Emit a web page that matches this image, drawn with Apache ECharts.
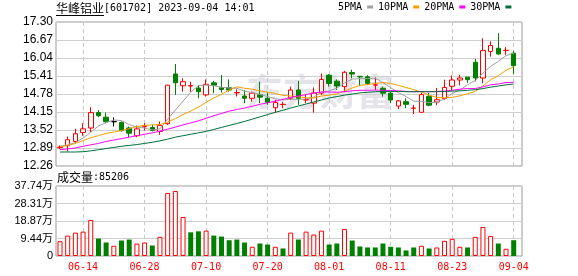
<!DOCTYPE html>
<html><head><meta charset="utf-8">
<script src="https://cdn.jsdelivr.net/npm/echarts@6/dist/echarts.min.js"></script>
<style>html,body{margin:0;padding:0;background:#fff}#c{width:578px;height:276px}</style>
</head><body><div id="c"></div>
<script>
const stockName = '华峰铝业';
const stockCode = '601702';
const timeStamp = '2023-09-04 14:01';
const dates = ['06-09','06-12','06-13','06-14','06-15','06-16','06-19','06-20','06-21','06-26','06-27','06-28','06-29','06-30','07-03','07-04','07-05','07-06','07-07','07-10','07-11','07-12','07-13','07-14','07-17','07-18','07-19','07-20','07-21','07-24','07-25','07-26','07-27','07-28','07-31','08-01','08-02','08-03','08-04','08-07','08-08','08-09','08-10','08-11','08-14','08-15','08-16','08-17','08-18','08-21','08-22','08-23','08-24','08-25','08-28','08-29','08-30','08-31','09-01','09-04'];
const dateTicks = ['06-14','06-28','07-10','07-20','08-01','08-11','08-23','09-04'];
const opens  = [12.90,12.97,13.12,13.43,13.59,14.13,13.97,13.81,13.78,13.59,13.32,13.63,13.61,13.47,13.74,15.48,15.07,15.06,14.99,14.75,15.17,15.00,15.00,14.82,14.71,14.63,14.75,14.63,14.30,14.41,14.63,14.92,14.57,14.46,14.81,15.44,15.23,15.04,15.53,15.40,15.38,15.09,14.98,14.81,14.36,14.51,14.28,14.14,14.70,14.50,14.62,15.05,15.27,15.37,15.89,15.34,16.27,16.38,16.30,16.21];
const closes = [12.92,13.18,13.39,13.56,14.13,14.02,13.81,13.81,13.50,13.41,13.56,13.65,13.50,13.68,15.09,15.17,15.21,15.07,14.86,15.12,15.09,14.94,14.92,14.83,14.63,14.81,14.67,14.49,14.48,14.42,14.92,14.63,14.58,14.81,15.29,15.15,15.06,15.54,15.48,15.38,15.15,15.10,14.81,14.57,14.54,14.42,14.29,14.76,14.39,14.58,15.01,15.27,15.34,15.28,15.34,16.30,16.48,16.18,16.31,15.77];
const highs  = [12.98,13.29,13.56,13.76,14.32,14.22,14.13,13.96,13.82,13.64,13.68,13.76,13.70,13.82,15.10,15.83,15.33,15.21,15.09,15.29,15.24,15.44,15.29,14.94,14.92,14.86,15.21,14.83,14.57,14.51,15.04,15.24,14.75,15.01,15.50,15.48,15.29,15.59,15.63,15.40,15.44,15.36,15.04,14.86,14.57,14.63,14.40,14.82,14.82,14.99,15.28,15.43,15.45,15.37,16.01,16.73,16.62,16.91,16.42,16.29];
const lows   = [12.85,12.77,13.06,13.32,13.45,13.97,13.76,13.64,13.46,13.27,13.27,13.50,13.47,13.35,13.70,14.75,14.86,14.86,14.63,14.69,14.81,14.83,14.86,14.69,14.46,14.51,14.46,14.40,14.13,14.28,14.57,14.40,14.46,14.13,14.75,15.04,14.92,14.86,15.33,15.06,15.09,14.92,14.69,14.46,14.25,14.28,14.08,14.12,14.35,14.39,14.58,14.90,15.08,15.17,15.22,15.16,16.09,16.15,16.15,15.48];
const ma5  = [12.95,13.00,13.08,13.24,13.44,13.66,13.78,13.87,13.85,13.71,13.62,13.59,13.52,13.56,13.90,14.22,14.53,14.84,15.08,15.09,15.07,15.02,14.99,14.98,14.88,14.83,14.77,14.69,14.62,14.57,14.60,14.59,14.61,14.67,14.85,14.89,14.98,15.17,15.30,15.32,15.32,15.33,15.18,15.00,14.83,14.69,14.53,14.52,14.48,14.49,14.61,14.80,14.92,15.10,15.25,15.51,15.75,15.92,16.12,16.21];
const ma10 = [12.93,12.98,13.05,13.15,13.25,13.32,13.40,13.45,13.50,13.57,13.64,13.68,13.70,13.71,13.80,13.92,14.06,14.18,14.32,14.49,14.64,14.77,14.92,15.03,14.98,14.95,14.89,14.84,14.80,14.73,14.71,14.68,14.65,14.64,14.71,14.74,14.78,14.89,14.99,15.08,15.11,15.15,15.18,15.15,15.08,15.01,14.93,14.85,14.74,14.66,14.65,14.66,14.72,14.79,14.87,15.06,15.28,15.42,15.61,15.73];
const ma20 = [12.83,12.86,12.89,12.95,13.00,13.05,13.12,13.17,13.22,13.27,13.32,13.37,13.42,13.48,13.55,13.62,13.70,13.77,13.84,13.93,14.02,14.10,14.18,14.24,14.29,14.35,14.42,14.47,14.53,14.59,14.66,14.71,14.76,14.82,14.85,14.85,14.84,14.86,14.89,14.91,14.91,14.92,14.91,14.90,14.89,14.87,14.86,14.87,14.86,14.87,14.88,14.91,14.95,14.97,14.97,15.03,15.10,15.13,15.18,15.19];
const ma30 = [12.75,12.75,12.75,12.76,12.79,12.83,12.87,12.91,12.95,12.98,13.01,13.05,13.09,13.14,13.20,13.27,13.32,13.37,13.42,13.47,13.54,13.61,13.68,13.75,13.82,13.90,13.98,14.06,14.14,14.21,14.29,14.36,14.43,14.50,14.57,14.64,14.69,14.74,14.78,14.82,14.84,14.86,14.87,14.87,14.87,14.86,14.86,14.86,14.86,14.86,14.87,14.88,14.89,14.91,14.93,14.97,15.02,15.06,15.10,15.13];
const volumes = [79600,110100,126100,131500,194000,94100,72700,55100,83400,88700,67300,72700,56700,103200,340000,350600,210100,127700,133100,136800,110100,104800,85000,88700,72700,49700,67300,62000,49700,40600,126100,88700,131500,115500,136800,62000,67300,145900,83400,51300,46000,46000,67300,49700,46000,29900,46000,55100,40600,46000,81800,92500,49700,46000,103200,156600,108500,67300,39000,85206];
const volumeUp = [1,1,1,1,1,0,0,1,0,0,1,1,0,1,1,1,1,0,0,1,0,0,0,0,0,1,0,0,1,0,1,0,1,1,1,0,0,1,0,0,0,0,0,0,0,0,0,1,0,1,1,1,1,0,1,1,1,0,1,0];
const priceTicks = ['12.26','12.89','13.52','14.15','14.78','15.41','16.04','16.67','17.30'];
const volumeTicks = ['0','9.44万','18.87万','28.31万','37.74万'];
const volumeMax = 377400;
const maNames = ['5PMA','10PMA','20PMA','30PMA'];
const maColors = ['#a0a0a0','#f5a000','#ff00ff','#00703a'];
const maData = [ma5, ma10, ma20, ma30];

const pMin = parseFloat(priceTicks[0]);
const pMax = parseFloat(priceTicks[priceTicks.length - 1]);
const pStep = (pMax - pMin) / (priceTicks.length - 1);
const vStep = volumeMax / (volumeTicks.length - 1);
const RED = '#ff0000', GREEN = '#008000';
const showTick = (i, v) => dateTicks.indexOf(v) >= 0;
const dashLine = { show: true, interval: showTick, lineStyle: { color: '#c8c8c8', type: [4, 3], width: 1 } };

const chart = echarts.init(document.getElementById('c'), null, { renderer: 'canvas' });
const option = {
  animation: false,
  backgroundColor: '#fff',
  title: {
    text: '{n|' + stockName + '}{c|[' + stockCode + '] ' + timeStamp + '}',
    left: 56, top: 1, padding: 0,
    textStyle: { rich: {
      n: { fontFamily: 'Noto Sans CJK SC', fontSize: 12, fontWeight: 'normal', color: '#000', lineHeight: 15 },
      c: { fontFamily: 'DejaVu Sans Mono', fontSize: 10, fontWeight: 'normal', color: '#000', lineHeight: 15 }
    } }
  },
  legend: {
    data: maNames, left: 338, top: 2, padding: 0, align: 'right', icon: 'rect',
    itemWidth: 6, itemHeight: 3, itemGap: 5, selectedMode: false,
    textStyle: { fontFamily: 'DejaVu Sans Mono', fontSize: 10, color: '#000' }
  },
  graphic: [
    { type: 'line', shape: { x1: 56, y1: 15.5, x2: 104, y2: 15.5 }, style: { stroke: '#000', lineWidth: 1 } },
    { type: 'text', x: 246, y: 92, z: -1, style: { text: '东方财富', fontFamily: 'Noto Sans CJK SC', fontSize: 37, fontWeight: 'bold', fill: 'rgba(165,165,185,0.30)', textVerticalAlign: 'middle' } },
    { type: 'text', x: 57, y: 177, style: {
      text: '{a|成交量}{b|:' + volumes[volumes.length - 1] + '}', textVerticalAlign: 'middle',
      rich: { a: { fontFamily: 'Noto Sans CJK SC', fontSize: 12, fill: '#000' }, b: { fontFamily: 'DejaVu Sans Mono', fontSize: 10, fill: '#000' } }
    } }
  ],
  grid: [
    { left: 56, right: 56, top: 22, height: 144, show: true, borderColor: '#999', borderWidth: 1, backgroundColor: 'transparent' },
    { left: 56, right: 56, top: 186, height: 70, show: true, borderColor: '#999', borderWidth: 1, backgroundColor: 'transparent' },
    { left: 60, right: 64.3, top: 22, height: 144 },
    { left: 60, right: 64.3, top: 186, height: 70 }
  ],
  xAxis: [
    { gridIndex: 0, type: 'category', data: [''], show: false },
    { gridIndex: 1, type: 'category', data: [''], show: false },
    { gridIndex: 2, type: 'category', data: dates, boundaryGap: false,
      axisLine: { show: false }, axisTick: { show: false }, axisLabel: { show: false }, splitLine: dashLine },
    { gridIndex: 3, type: 'category', data: dates, boundaryGap: false,
      axisLine: { show: false }, axisTick: { show: false }, splitLine: dashLine,
      axisLabel: { show: true, interval: showTick, color: RED, fontFamily: 'DejaVu Sans Mono', fontSize: 10, margin: 6 } }
  ],
  yAxis: [
    { gridIndex: 0, type: 'value', min: pMin, max: pMax, interval: pStep,
      axisLine: { show: false }, axisTick: { show: false },
      splitLine: { show: true, lineStyle: { color: '#cfcfcf', width: 1 } },
      axisLabel: { margin: 3, color: '#000', fontFamily: 'Liberation Sans', fontSize: 12, showMinLabel: true, showMaxLabel: true,
        formatter: v => priceTicks[Math.round((v - pMin) / pStep)] } },
    { gridIndex: 1, type: 'value', min: 0, max: volumeMax, interval: vStep,
      axisLine: { show: false }, axisTick: { show: false },
      splitLine: { show: true, lineStyle: { color: '#cfcfcf', width: 1 } },
      axisLabel: { margin: 3, color: '#000', fontFamily: 'Liberation Sans, Noto Sans CJK SC', fontSize: 11, showMinLabel: true, showMaxLabel: true,
        formatter: v => volumeTicks[Math.round(v / vStep)] } },
    { gridIndex: 2, type: 'value', min: pMin, max: pMax, show: false, splitLine: { show: false } },
    { gridIndex: 3, type: 'value', min: 0, max: volumeMax, show: false, splitLine: { show: false } }
  ],
  series: [
    { type: 'candlestick', xAxisIndex: 2, yAxisIndex: 2, barWidth: 5, clip: false,
      data: dates.map((d, i) => [opens[i], closes[i], lows[i], highs[i]]),
      itemStyle: { color: '#fff', color0: GREEN, borderColor: RED, borderColor0: GREEN, borderColorDoji: '#000', borderWidth: 1 } }
  ].concat(maNames.map((n, k) => ({
    name: n, type: 'line', xAxisIndex: 2, yAxisIndex: 2, data: maData[k], symbol: 'none', showSymbol: false,
    lineStyle: { color: maColors[k], width: 1 }, itemStyle: { color: maColors[k] }, z: 3
  }))).concat([
    { type: 'bar', xAxisIndex: 3, yAxisIndex: 3, barWidth: 5, clip: false,
      data: volumes.map((v, i) => ({ value: v, itemStyle: volumeUp[i]
        ? { color: '#fff', borderColor: RED, borderWidth: 1 }
        : { color: GREEN, borderColor: GREEN, borderWidth: 0 } })) }
  ])
};
chart.setOption(option);
</script>
</body></html>
